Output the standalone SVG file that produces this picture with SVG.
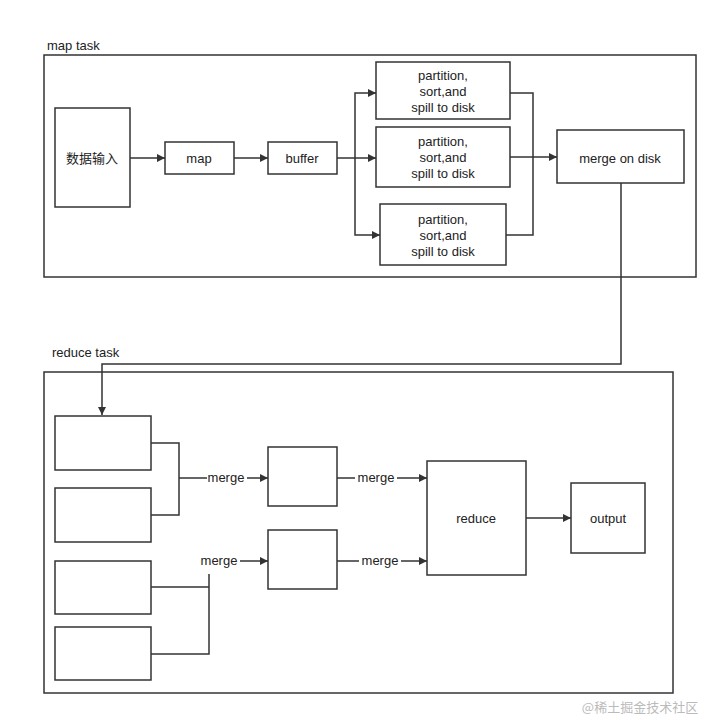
<svg xmlns="http://www.w3.org/2000/svg" width="721" height="717" viewBox="0 0 721 717">
<style>
rect{fill:#fff;stroke:#333;stroke-width:1.5}
text{font-family:"Liberation Sans","Noto Sans CJK SC",sans-serif;font-size:13px;fill:#222;text-anchor:middle}
.c{fill:none;stroke:#333;stroke-width:1.5}
.a{marker-end:url(#ah)}
.lb{fill:#fff;stroke:none}
</style>
<defs><marker id="ah" viewBox="0 0 10 10" refX="10" refY="5" markerWidth="8" markerHeight="8" markerUnits="userSpaceOnUse" orient="auto"><path d="M0,0L10,5L0,10z" fill="#333"/></marker></defs>
<rect x="0" y="0" width="721" height="717" style="fill:#fff;stroke:none"/>
<g id="map-task"><rect x="44" y="55" width="652" height="222"/><text x="47" y="50" style="text-anchor:start">map task</text></g>
<g id="reduce-task"><rect x="44" y="372" width="629" height="321"/><text x="52" y="357" style="text-anchor:start">reduce task</text></g>
<g id="input"><rect x="55" y="108" width="75" height="99"/><text x="92" y="163">数据输入</text></g>
<g id="map"><rect x="165" y="142" width="69" height="32"/><text x="199" y="163">map</text></g>
<g id="buffer"><rect x="268" y="142" width="69" height="32"/><text x="302" y="163">buffer</text></g>
<g id="p1"><rect x="376" y="62" width="134" height="57"/><text x="443" y="80">partition,</text><text x="443" y="96">sort,and</text><text x="443" y="112">spill to disk</text></g>
<g id="p2"><rect x="376" y="127" width="134" height="60"/><text x="443" y="146">partition,</text><text x="443" y="162">sort,and</text><text x="443" y="178">spill to disk</text></g>
<g id="p3"><rect x="380" y="204" width="126" height="61"/><text x="443" y="224">partition,</text><text x="443" y="240">sort,and</text><text x="443" y="256">spill to disk</text></g>
<g id="merge-disk"><rect x="557" y="130" width="127" height="53"/><text x="620" y="163">merge on disk</text></g>
<g id="r1"><rect x="55" y="416" width="96" height="54"/></g>
<g id="r2"><rect x="55" y="488" width="96" height="54"/></g>
<g id="r3"><rect x="55" y="561" width="96" height="53"/></g>
<g id="r4"><rect x="55" y="627" width="96" height="53"/></g>
<g id="m1"><rect x="268" y="447" width="69" height="59"/></g>
<g id="m2"><rect x="268" y="530" width="69" height="59"/></g>
<g id="reduce"><rect x="427" y="461" width="99" height="114"/><text x="476" y="523">reduce</text></g>
<g id="output"><rect x="571" y="483" width="74" height="70"/><text x="608" y="523">output</text></g>
<g id="connectors">
<path class="c a" d="M130,158H165"/>
<path class="c a" d="M234,158H268"/>
<path class="c a" d="M337,158H376"/>
<path class="c a" d="M355,158V93H376"/>
<path class="c a" d="M355,158V235H380"/>
<path class="c" d="M510,93H533V235H506"/>
<path class="c a" d="M510,157H557"/>
<path class="c a" d="M621,183V364H102V415"/>
<path class="c" d="M151,443H179V515H151"/>
<path class="c a" d="M179,478H268"/>
<rect class="lb" x="207" y="470" width="40" height="16"/><text x="226" y="482">merge</text>
<path class="c" d="M151,587H209M151,654H209V574"/>
<path class="c a" d="M240,561H268"/>
<text x="219" y="565">merge</text>
<path class="c a" d="M337,478H427"/>
<rect class="lb" x="355" y="470" width="42" height="16"/><text x="376" y="482">merge</text>
<path class="c a" d="M337,561H427"/>
<rect class="lb" x="359" y="553" width="42" height="16"/><text x="380" y="565">merge</text>
<path class="c a" d="M526,518H571"/>
</g>
<text x="640" y="712" style="font-size:13px;fill:#bbb;font-family:'Noto Sans CJK SC',serif">@稀土掘金技术社区</text>
</svg>
